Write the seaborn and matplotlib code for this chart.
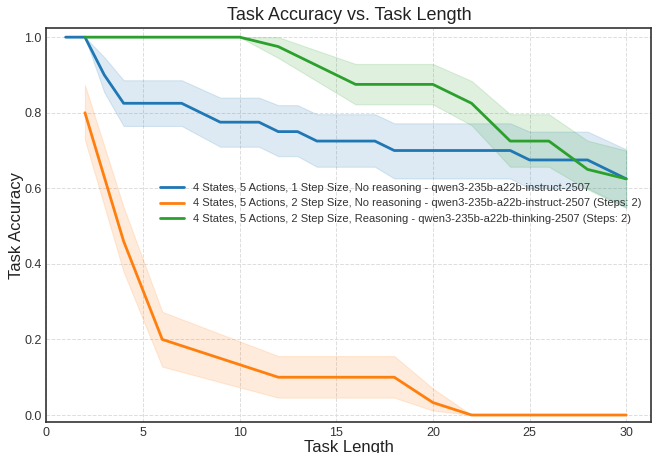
import pandas as pd
import numpy as np
import matplotlib.pyplot as plt
import seaborn as sns

# Series (vertices of each line)
labels = [
    '4 States, 5 Actions, 1 Step Size, No reasoning - qwen3-235b-a22b-instruct-2507',
    '4 States, 5 Actions, 2 Step Size, No reasoning - qwen3-235b-a22b-instruct-2507 (Steps: 2)',
    '4 States, 5 Actions, 2 Step Size, Reasoning - qwen3-235b-a22b-thinking-2507 (Steps: 2)',
]

blue_x = [1, 2, 3, 4, 7, 9, 11, 12, 13, 14, 17, 18, 24, 25, 28, 30]
blue_y = [1.0, 1.0, 0.9, 0.825, 0.825, 0.775, 0.775, 0.75, 0.75, 0.725, 0.725, 0.7, 0.7, 0.675, 0.675, 0.625]
blue_lo = [1.0, 1.0, 0.854, 0.765, 0.765, 0.71, 0.71, 0.685, 0.685, 0.657, 0.657, 0.626, 0.626, 0.60, 0.60, 0.55]
blue_hi = [1.0, 1.0, 0.947, 0.886, 0.886, 0.84, 0.84, 0.82, 0.82, 0.796, 0.796, 0.772, 0.772, 0.75, 0.75, 0.703]

orange_x = [2, 4, 6, 12, 18, 20, 22, 30]
orange_y = [0.8, 0.46, 0.2, 0.1, 0.1, 0.033, 0.0, 0.0]
orange_lo = [0.728, 0.379, 0.128, 0.046, 0.046, 0.012, 0.0, 0.0]
orange_hi = [0.873, 0.55, 0.273, 0.156, 0.156, 0.07, 0.0, 0.0]

green_x = [2, 10, 12, 16, 20, 22, 24, 26, 28, 30]
green_y = [1.0, 1.0, 0.975, 0.875, 0.875, 0.825, 0.725, 0.725, 0.65, 0.625]
green_lo = [1.0, 1.0, 0.945, 0.822, 0.822, 0.767, 0.657, 0.657, 0.597, 0.548]
green_hi = [1.0, 1.0, 1.0, 0.929, 0.929, 0.884, 0.796, 0.796, 0.726, 0.70]

series = [
    (blue_x, blue_y, blue_lo, blue_hi),
    (orange_x, orange_y, orange_lo, orange_hi),
    (green_x, green_y, green_lo, green_hi),
]
colors = ['#1f77b4', '#ff7f0e', '#2ca02c']

rows = []
for lab, (xs, ys, lo, hi) in zip(labels, series):
    for x, y, l, h in zip(xs, ys, lo, hi):
        rows.append({'length': x, 'acc': y, 'lo': l, 'hi': h, 'config': lab})
df = pd.DataFrame(rows)

sns.set_style('white')
plt.rcParams['font.family'] = ['Liberation Sans', 'DejaVu Sans']

fig, ax = plt.subplots(figsize=(6.52, 4.53), dpi=100)
sns.lineplot(data=df, x='length', y='acc', hue='config', hue_order=labels,
             palette=colors, linewidth=2, ax=ax, errorbar=None)
for lab, c in zip(labels, colors):
    sub = df[df['config'] == lab]
    ax.fill_between(sub['length'], sub['lo'], sub['hi'], color=c, alpha=0.15, linewidth=0.8)

ax.set_xlim(0, 31.3)
ax.set_ylim(-0.019, 1.024)
ax.set_xticks([0, 5, 10, 15, 20, 25, 30])
ax.set_yticks([0.0, 0.2, 0.4, 0.6, 0.8, 1.0])
ax.grid(True, linestyle='--', color='#dddddd', linewidth=0.7)
ax.tick_params(labelsize=9, colors='#333333', length=0)
for s in ax.spines.values():
    s.set_color('#333333')
    s.set_linewidth(1.2)

ax.set_title('Task Accuracy vs. Task Length', fontsize=13, color='#222222')
ax.set_xlabel('Task Length', fontsize=12, labelpad=1, color='#222222')
ax.set_ylabel('Task Accuracy', fontsize=12, labelpad=0, color='#222222')
ax.legend(loc='center right', bbox_to_anchor=(1.0, 0.555), frameon=False,
          fontsize=8, handlelength=2.2, labelcolor='#333333')

fig.subplots_adjust(left=0.071, right=0.999, top=0.938, bottom=0.068)
fig.savefig('out.png', dpi=100)
